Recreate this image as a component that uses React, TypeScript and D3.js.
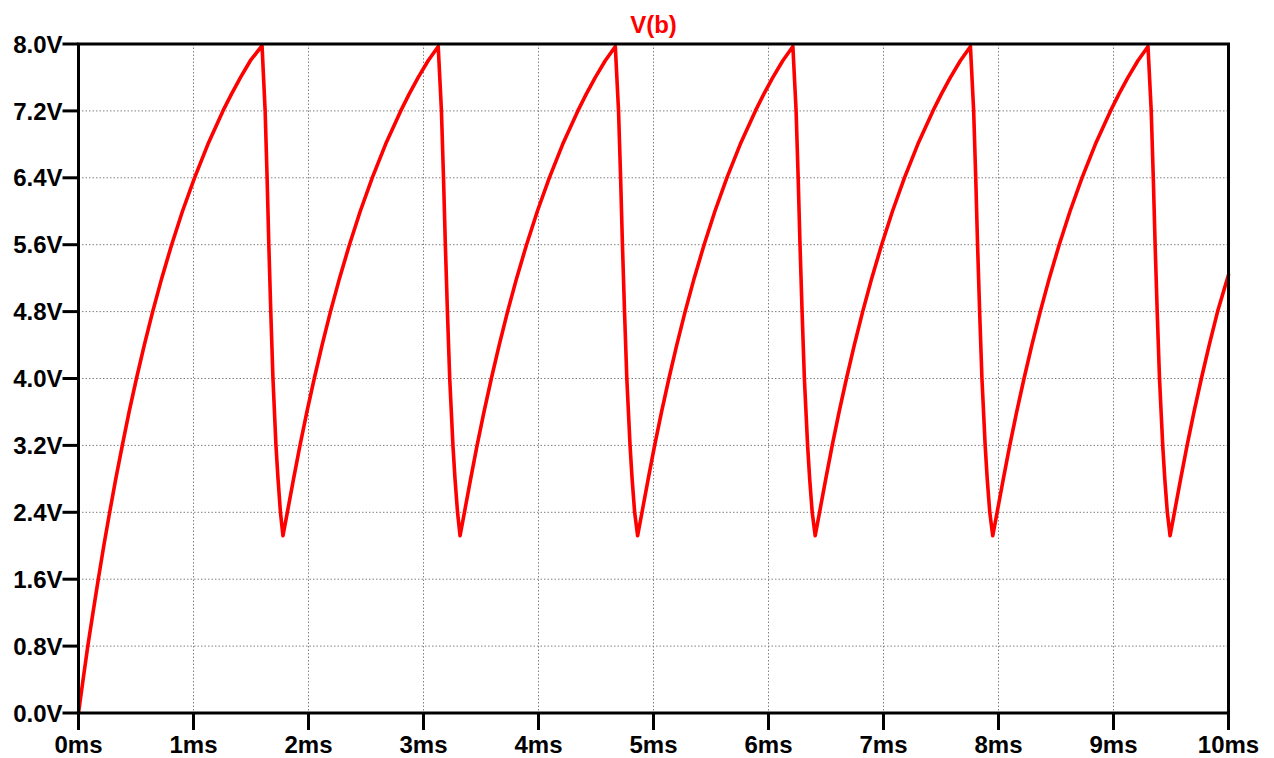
import React from "react";
import * as d3 from "d3";

const timeMs: number[] = [
  // first charge from 0 V
  0, 0.04, 0.081, 0.126, 0.172, 0.22, 0.271, 0.324, 0.381, 0.44, 0.504, 0.572, 0.645, 0.724, 0.81, 0.904, 1.009, 1.125, 1.256, 1.33, 1.409, 1.494, 1.596,
  // discharge 1
  1.623, 1.64, 1.655, 1.672, 1.691, 1.717, 1.735, 1.756, 1.778,
  // charge 2
  1.816, 1.87, 1.926, 1.986, 2.05, 2.118, 2.191, 2.27, 2.356, 2.45, 2.554, 2.67, 2.802, 2.875, 2.954, 3.04, 3.128,
  3.156, 3.174, 3.19, 3.208, 3.228, 3.256, 3.274, 3.296, 3.318,
  3.356, 3.41, 3.466, 3.526, 3.59, 3.658, 3.731, 3.81, 3.896, 3.99, 4.094, 4.21, 4.342, 4.415, 4.494, 4.58, 4.668,
  4.696, 4.714, 4.73, 4.748, 4.768, 4.796, 4.814, 4.836, 4.862,
  4.9, 4.954, 5.01, 5.07, 5.134, 5.202, 5.275, 5.354, 5.44, 5.534, 5.638, 5.754, 5.886, 5.959, 6.038, 6.124, 6.212,
  6.24, 6.258, 6.274, 6.292, 6.312, 6.34, 6.358, 6.38, 6.406,
  6.444, 6.498, 6.554, 6.614, 6.678, 6.746, 6.819, 6.898, 6.984, 7.078, 7.182, 7.298, 7.43, 7.503, 7.582, 7.668, 7.756,
  7.784, 7.802, 7.818, 7.836, 7.856, 7.884, 7.902, 7.924, 7.95,
  7.988, 8.042, 8.098, 8.158, 8.222, 8.29, 8.363, 8.442, 8.528, 8.622, 8.726, 8.842, 8.974, 9.047, 9.126, 9.212, 9.3,
  9.328, 9.346, 9.362, 9.38, 9.4, 9.428, 9.446, 9.468, 9.492,
  9.53, 9.584, 9.64, 9.7, 9.764, 9.832, 9.905, 10.0,
];

const voltage: number[] = [
  0, 0.4, 0.8, 1.2, 1.6, 2.0, 2.4, 2.8, 3.2, 3.6, 4.0, 4.4, 4.8, 5.2, 5.6, 6.0, 6.4, 6.8, 7.2, 7.4, 7.6, 7.8, 7.98,
  7.2, 6.4, 5.6, 4.8, 4.0, 3.2, 2.8, 2.4, 2.12,
  2.4, 2.8, 3.2, 3.6, 4.0, 4.4, 4.8, 5.2, 5.6, 6.0, 6.4, 6.8, 7.2, 7.4, 7.6, 7.8, 7.97,
  7.2, 6.4, 5.6, 4.8, 4.0, 3.2, 2.8, 2.4, 2.12,
  2.4, 2.8, 3.2, 3.6, 4.0, 4.4, 4.8, 5.2, 5.6, 6.0, 6.4, 6.8, 7.2, 7.4, 7.6, 7.8, 7.97,
  7.2, 6.4, 5.6, 4.8, 4.0, 3.2, 2.8, 2.4, 2.12,
  2.4, 2.8, 3.2, 3.6, 4.0, 4.4, 4.8, 5.2, 5.6, 6.0, 6.4, 6.8, 7.2, 7.4, 7.6, 7.8, 7.97,
  7.2, 6.4, 5.6, 4.8, 4.0, 3.2, 2.8, 2.4, 2.12,
  2.4, 2.8, 3.2, 3.6, 4.0, 4.4, 4.8, 5.2, 5.6, 6.0, 6.4, 6.8, 7.2, 7.4, 7.6, 7.8, 7.97,
  7.2, 6.4, 5.6, 4.8, 4.0, 3.2, 2.8, 2.4, 2.12,
  2.4, 2.8, 3.2, 3.6, 4.0, 4.4, 4.8, 5.2, 5.6, 6.0, 6.4, 6.8, 7.2, 7.4, 7.6, 7.8, 7.97,
  7.2, 6.4, 5.6, 4.8, 4.0, 3.2, 2.8, 2.4, 2.12,
  2.4, 2.8, 3.2, 3.6, 4.0, 4.4, 4.8, 5.24,
];

const xTicks: number[] = [0, 1, 2, 3, 4, 5, 6, 7, 8, 9, 10];
const xTickLabels: string[] = ["0ms", "1ms", "2ms", "3ms", "4ms", "5ms", "6ms", "7ms", "8ms", "9ms", "10ms"];
const yTicks: number[] = [0, 0.8, 1.6, 2.4, 3.2, 4.0, 4.8, 5.6, 6.4, 7.2, 8.0];
const yTickLabels: string[] = ["0.0V", "0.8V", "1.6V", "2.4V", "3.2V", "4.0V", "4.8V", "5.6V", "6.4V", "7.2V", "8.0V"];
const seriesName = "V(b)";

const W = 1274;
const H = 758;
const left = 78.5;
const right = 1228.5;
const top = 44;
const bottom = 713;
const FONT = "'Liberation Sans', Arial, sans-serif";

export default function App() {
  const x = d3.scaleLinear().domain([0, 10]).range([left, right]);
  const y = d3.scaleLinear().domain([0, 8]).range([bottom, top]);
  const pts: [number, number][] = timeMs.map((t, i) => [t, voltage[i]]);
  const line = d3
    .line<[number, number]>()
    .x((d) => x(d[0]))
    .y((d) => y(d[1]))
    .curve(d3.curveLinear);

  return (
    <svg
      width={W}
      height={H}
      style={{ position: "absolute", left: 0, top: 0, background: "#fff" }}
      fontFamily={FONT}
    >
      <rect x={0} y={0} width={W} height={H} fill="#fff" />
      {/* grid */}
      {xTicks.slice(1, -1).map((t) => (
        <line key={"gx" + t} x1={x(t)} x2={x(t)} y1={top} y2={bottom} stroke="#808080" strokeWidth={1} strokeDasharray="1.5,2" />
      ))}
      {yTicks.slice(1, -1).map((v) => (
        <line key={"gy" + v} x1={left} x2={right} y1={y(v)} y2={y(v)} stroke="#808080" strokeWidth={1} strokeDasharray="1.5,2" />
      ))}
      {/* waveform */}
      <path d={line(pts) || ""} fill="none" stroke="#ff0000" strokeWidth={3.6} strokeLinejoin="round" strokeLinecap="round" />
      {/* frame */}
      <rect x={left} y={top} width={right - left} height={bottom - top} fill="none" stroke="#000" strokeWidth={3} />
      {/* y ticks */}
      {yTicks.map((v, i) => (
        <g key={"yt" + v}>
          <line x1={left - 16} x2={left} y1={y(v)} y2={y(v)} stroke="#000" strokeWidth={3} />
          <text x={left - 16} y={y(v)} dy="0.36em" textAnchor="end" fontSize={24} fontWeight="bold" fill="#000">
            {yTickLabels[i]}
          </text>
        </g>
      ))}
      {/* x ticks */}
      {xTicks.map((t, i) => (
        <g key={"xt" + t}>
          <line x1={x(t)} x2={x(t)} y1={bottom} y2={bottom + 17} stroke="#000" strokeWidth={3} />
          <text x={x(t)} y={753} textAnchor="middle" fontSize={24} fontWeight="bold" fill="#000">
            {xTickLabels[i]}
          </text>
        </g>
      ))}
      {/* title */}
      <text x={(left + right) / 2} y={33} textAnchor="middle" fontSize={24} fontWeight="bold" fill="#ff0000">
        {seriesName}
      </text>
    </svg>
  );
}
